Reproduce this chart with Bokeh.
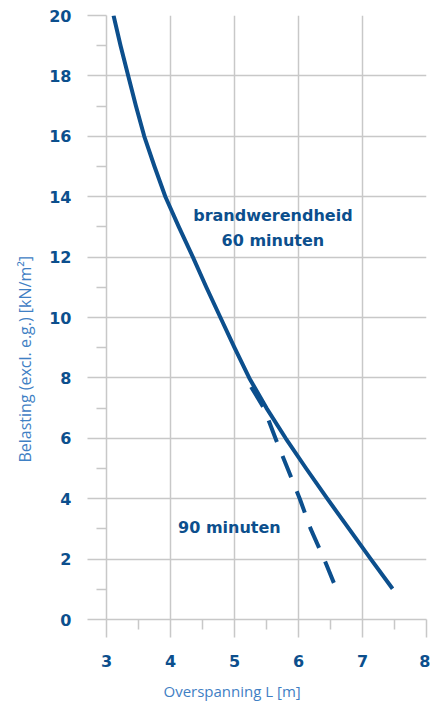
from bokeh.plotting import figure
from bokeh.models import FixedTicker, Title, ColumnDataSource
from bokeh.core.properties import value
from bokeh.embed import file_html
from bokeh.resources import INLINE

# ---- data ----
x_ticks = [3, 4, 5, 6, 7, 8]
x_minor = [3.5, 4.5, 5.5, 6.5, 7.5]
y_ticks = [0, 2, 4, 6, 8, 10, 12, 14, 16, 18, 20]
y_minor = [1, 3, 5, 7, 9, 11, 13, 15, 17, 19]

# brandwerendheid 60 minuten (solid)
span_60 = [3.11, 3.22, 3.34, 3.46, 3.59, 3.75, 3.92, 4.13, 4.35, 4.56, 4.78,
           5.00, 5.23, 5.50, 5.80, 6.12, 6.45, 6.79, 7.13, 7.47]
load_60 = [20, 19, 18, 17, 16, 15, 14, 13, 12, 11, 10,
           9, 8, 7, 6, 5, 4, 3, 2, 1.02]

# 90 minuten (dashed)
span_90 = [5.26, 5.46, 5.64, 5.83, 6.02, 6.19, 6.40, 6.59]
load_90 = [7.7, 7, 6, 5, 4, 3, 2, 1.02]

ann_text = ["brandwerendheid", "60 minuten", "90 minuten"]
ann_x = [5.60, 5.60, 4.92]
ann_y = [13.38, 12.55, 3.05]

x_title = "Overspanning L [m]"
y_title = "Belasting (excl. e.g.) [kN/m²]"

DARK = "#0c4f8d"
LIGHT = "#3f80c4"
GRID = "#c8c8c8"

p = figure(width=430, height=710, x_range=(3, 8), y_range=(0, 20),
           output_backend="svg", toolbar_location=None,
           min_border_left=105, min_border_right=4, min_border_top=15,
           min_border_bottom=91)
p.outline_line_color = None
p.background_fill_color = "white"
p.border_fill_color = "white"

for ax, ticks, minor in ((p.xaxis[0], x_ticks, x_minor), (p.yaxis[0], y_ticks, y_minor)):
    ax.ticker = FixedTicker(ticks=ticks, minor_ticks=minor)
    ax.axis_line_color = GRID
    ax.axis_line_width = 1.5
    ax.major_tick_line_color = GRID
    ax.major_tick_line_width = 1.5
    ax.minor_tick_line_color = GRID
    ax.minor_tick_line_width = 1.5
    ax.major_tick_in = 0
    ax.minor_tick_in = 0
    ax.minor_tick_out = 10
    ax.major_label_text_font = "DejaVu Sans"
    ax.major_label_text_font_style = "bold"
    ax.major_label_text_font_size = "16px"
    ax.major_label_text_color = DARK

p.xaxis.major_tick_out = 18
p.xaxis.major_label_standoff = 17
p.yaxis.major_tick_out = 19
p.yaxis.major_label_standoff = 16

p.xgrid.grid_line_color = GRID
p.xgrid.grid_line_width = 1.5
p.ygrid.grid_line_color = GRID
p.ygrid.grid_line_width = 1.5

p.line(span_60, load_60, line_color=DARK, line_width=4, line_join="round")
p.line(span_90, load_90, line_color=DARK, line_width=4, line_dash="23 15",
       line_join="round")

src = ColumnDataSource(dict(x=ann_x, y=ann_y, t=ann_text))
p.text(x="x", y="y", text="t", source=src, text_font=value("DejaVu Sans"),
       text_font_style="bold", text_font_size="16px", text_color=DARK,
       text_align="center", text_baseline="middle")

p.add_layout(Title(text=x_title, align="left", offset=57, standoff=19,
                   text_font="Open Sans", text_font_style="normal",
                   text_font_size="15px", text_color=LIGHT), "below")
p.add_layout(Title(text=y_title, align="left", offset=157, standoff=22,
                   text_font="Open Sans", text_font_style="normal",
                   text_font_size="16px", text_color=LIGHT), "left")

open("out.html", "w").write(file_html(p, INLINE))
